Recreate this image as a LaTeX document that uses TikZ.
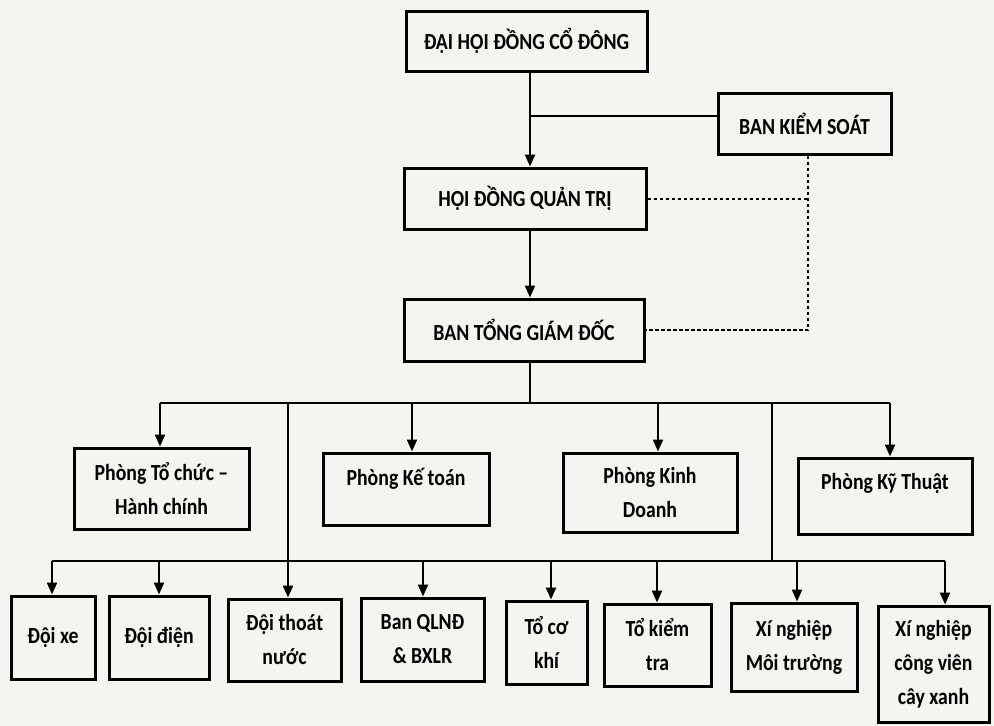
\documentclass[tikz,border=0pt]{standalone}
\usepackage{fontspec}
\setmainfont{Carlito}[FakeStretch=0.86]
\usetikzlibrary{arrows.meta,calc}
\definecolor{paper}{RGB}{244,244,241}
\begin{document}
\begin{tikzpicture}[x=1pt,y=-1pt,
  box/.style={draw=black, line width=3pt, align=center, inner sep=2pt,
    font=\bfseries\fontsize{23}{34}\selectfont},
  conn/.style={line width=2.2pt},
  arr/.style={line width=2.2pt, -{Triangle[length=12pt,width=10pt]}},
  dsh/.style={line width=2pt, dash pattern=on 3.5pt off 2.5pt}]
\fill[paper] (0,0) rectangle (994,726);
\useasboundingbox (0,0) rectangle (994,726);

% top chain
\node[box, minimum width=241pt, minimum height=60pt] (dh) at (526.5,41) {ĐẠI HỘI ĐỒNG CỔ ĐÔNG};
\node[box, minimum width=173pt, minimum height=61pt] (bks) at (804.5,123.5) {BAN KIỂM SOÁT};
\node[box, minimum width=242pt, minimum height=61pt] (hd) at (525,198.5) {HỘI ĐỒNG QUẢN TRỊ};
\node[box, minimum width=240pt, minimum height=62pt] (bt) at (524,330) {BAN TỔNG GIÁM ĐỐC};

% departments
\node[box, minimum width=175pt, minimum height=81pt] (tc) at (161.5,488.5) {Phòng Tổ chức –\\Hành chính};
\node[box, minimum width=166pt, minimum height=72pt, text depth=24pt] (kt) at (406,489) {Phòng Kế toán};
\node[box, minimum width=174pt, minimum height=79pt] (kd) at (650,492.5) {Phòng Kinh\\Doanh};
\node[box, minimum width=174pt, minimum height=76pt, text depth=30pt] (ky) at (885,496) {Phòng Kỹ Thuật};

% units
\node[box, minimum width=84pt, minimum height=83pt] (dx) at (53,637.5) {Đội xe};
\node[box, minimum width=100pt, minimum height=83pt] (dd) at (159,637.5) {Đội điện};
\node[box, minimum width=113pt, minimum height=82pt] (dt) at (284.5,640) {Đội thoát\\nước};
\node[box, minimum width=123pt, minimum height=83pt] (ql) at (422.5,639.5) {Ban QLNĐ\\\& BXLR};
\node[box, minimum width=81pt, minimum height=83pt] (ck) at (546.5,642.5) {Tổ cơ\\khí};
\node[box, minimum width=107pt, minimum height=82pt] (kr) at (657.5,645) {Tổ kiểm\\tra};
\node[box, minimum width=126pt, minimum height=88pt] (mt) at (794,647) {Xí nghiệp\\Môi trường};
\node[box, minimum width=111pt, minimum height=116pt] (cv) at (933.5,664) {Xí nghiệp\\công viên\\cây xanh};

% helper coordinates
\coordinate (v) at (530,0);
\coordinate (j) at (530,116);
\coordinate (dk) at (808,0);
\coordinate (b1) at (530,403);
\foreach \n/\x in {t1/160,t2/412,t3/658,t4/890,p1/288,p2/772}
  \coordinate (\n) at (\x,403);
\foreach \n/\x in {u1/52,u2/159,u3/423,u4/551,u5/657,u6/797,u7/945}
  \coordinate (\n) at (\x,561);

% top connectors
\draw[arr] (dh.south -| v) -- (hd.north -| v);
\draw[conn] (j) -- (j -| bks.west);
\draw[arr] (hd.south -| v) -- (bt.north -| v);
\draw[dsh] (hd.east) -- (hd.east -| dk);
\draw[dsh] (bks.south -| dk) -- (dk |- bt.east) -- (bt.east);

% first bus
\draw[conn] (bt.south -| v) -- (b1);
\draw[conn] (t1) -- (t4);
\draw[arr] (t1) -- (t1 |- tc.north);
\draw[arr] (t2) -- (t2 |- kt.north);
\draw[arr] (t3) -- (t3 |- kd.north);
\draw[arr] (t4) -- (t4 |- ky.north);

% pass-through lines and second bus
\draw[arr] (p1) -- (p1 |- dt.north);
\draw[conn] (p2) -- (p2 |- u1);
\draw[conn] (u1) -- (u7);
\draw[arr] (u1) -- (u1 |- dx.north);
\draw[arr] (u2) -- (u2 |- dd.north);
\draw[arr] (u3) -- (u3 |- ql.north);
\draw[arr] (u4) -- (u4 |- ck.north);
\draw[arr] (u5) -- (u5 |- kr.north);
\draw[arr] (u6) -- (u6 |- mt.north);
\draw[arr] (u7) -- (u7 |- cv.north);
\end{tikzpicture}
\end{document}
